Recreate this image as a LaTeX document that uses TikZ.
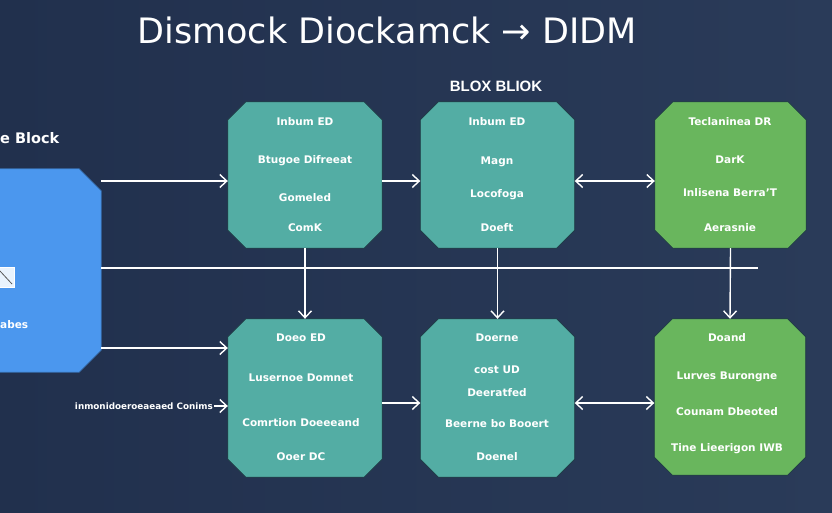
\documentclass[tikz,border=0pt]{standalone}
\usepackage{fontspec}
\setmainfont{DejaVu Sans}
\newfontfamily\lib{Liberation Sans}
\usepackage{xcolor}
\usetikzlibrary{arrows.meta,positioning}
\definecolor{bgl}{HTML}{21304D}
\definecolor{bgr}{HTML}{2A3B59}
\definecolor{tealx}{HTML}{53ADA4}
\definecolor{greenx}{HTML}{69B65D}
\definecolor{bluex}{HTML}{4B97EE}
\definecolor{edgex}{HTML}{1E3A44}
\tikzset{
  ar/.style={-{Straight Barb[length=7pt,width=13pt]},line width=1.4pt,white},
  dar/.style={{Straight Barb[length=7pt,width=13pt]}-{Straight Barb[length=7pt,width=13pt]},line width=1.4pt,white},
  ln/.style={line width=1.4pt,white},
  boxarea/.style={minimum width=#1,inner sep=0pt},
  txt/.style={font=\bfseries\fontsize{10.5}{12}\selectfont,text=white,inner sep=1pt}
}
% name, x, y, width, height, fill colour
\newcommand{\chbox}[6]{%
  \node[boxarea=#4pt,minimum height=#5pt] (#1) at (#2,#3) {};
  \draw[fill=#6,draw=edgex,thick] ([xshift=18pt]#1.north west) -- ([xshift=-18pt]#1.north east)
    -- ([yshift=-18pt]#1.north east) -- ([yshift=18pt]#1.south east)
    -- ([xshift=-18pt]#1.south east) -- ([xshift=18pt]#1.south west)
    -- ([yshift=18pt]#1.south west) -- ([yshift=-18pt]#1.north west) -- cycle;}

\begin{document}
\begin{tikzpicture}[x=1pt,y=-1pt]
\useasboundingbox (0,0) rectangle (832,512);
\fill[left color=bgl,right color=bgr] (0,0) rectangle (832,512);
\node[font=\fontsize{35}{38}\selectfont,text=white] (title) at (387,30) {Dismock Diockamck → DIDM};
\node[font=\lib\bfseries\fontsize{15}{17}\selectfont,text=white] (blox) at (496,86) {BLOX BLIOK};
\node[font=\bfseries\fontsize{14.5}{16}\selectfont,text=white,anchor=west,inner sep=0pt] (eblk) at (0,138) {e Block};
% blocks
\node[boxarea=113pt,minimum height=203pt] (blue) at (44.5,270.5) {};
\draw[fill=bluex,draw=bluex!75!black,thick] (blue.north west) -- ([xshift=-22pt]blue.north east)
  -- ([yshift=-22pt]blue.north east) -- ([yshift=22pt]blue.south east)
  -- ([xshift=-22pt]blue.south east) -- (blue.south west) -- cycle;
\chbox{b1}{305}{175}{154}{146}{tealx}
\chbox{b2}{497.5}{175}{154}{146}{tealx}
\chbox{b3}{730.5}{175}{151}{146}{greenx}
\chbox{b4}{305}{398}{154}{158}{tealx}
\chbox{b5}{497.5}{398}{154}{158}{tealx}
\chbox{b6}{730}{397}{151}{156}{greenx}
\draw[fill=white!88!bluex,draw=white] (-6,267) rectangle (14,287);
\draw[gray!70!black,thick] (0,271) -- (12,284);
\node[txt,anchor=west,inner sep=0pt] (abes) at (0,325) {abes};
% texts
\foreach \yy/\lbl in {122/Inbum ED,161/Btugoe Difreeat,198/Gomeled,228/ComK}
  \node[txt] (t1-\yy) at (305,\yy) {\lbl};
\foreach \yy/\lbl in {122/Inbum ED,162/Magn,195/Locofoga,228/Doeft}
  \node[txt] (t2-\yy) at (497,\yy) {\lbl};
\foreach \yy/\lbl in {122/Teclaninea DR,160/DarK,193/Inlisena Berra'T,228/Aerasnie}
  \node[txt] (t3-\yy) at (730,\yy) {\lbl};
\foreach \yy/\lbl in {338/Doeo ED,378/Lusernoe Domnet,423/Comrtion Doeeeand,457/Ooer DC}
  \node[txt] (t4-\yy) at (301,\yy) {\lbl};
\foreach \yy/\lbl in {338/Doerne,370/cost UD,393/Deeratfed,424/Beerne bo Booert,457/Doenel}
  \node[txt] (t5-\yy) at (497,\yy) {\lbl};
\foreach \yy/\lbl in {338/Doand,377/Lurves Burongne,412/Counam Dbeoted,449/Tine Lieerigon IWB}
  \node[txt] (t6-\yy) at (727,\yy) {\lbl};
\node[txt,anchor=east,font=\bfseries\fontsize{8.8}{10}\selectfont] (inp) at (214,406) {inmonidoeroeaeaed Conims};
% connectors
\coordinate (hend) at (758,268);
\draw[ln] (blue.east |- hend) -- (hend);
\draw[ar] (blue.east |- 0,181) -- (b1.west |- 0,181);
\draw[ar] (b1.east |- 0,181) -- (b2.west |- 0,181);
\draw[dar] (b2.east |- 0,181) -- (b3.west |- 0,181);
\draw[ar] (b1.south) -- (b4.north);
\draw[ar] (b2.south) -- (b5.north);
\draw[ar] (b3.south) -- (b6.north);
\draw[ar] (blue.east |- 0,348) -- (b4.west |- 0,348);
\draw[ar] (inp.east) -- (inp.east -| b4.west);
\draw[ar] (b4.east |- 0,403) -- (b5.west |- 0,403);
\draw[dar] (b5.east |- 0,403) -- (b6.west |- 0,403);
\end{tikzpicture}
\end{document}
